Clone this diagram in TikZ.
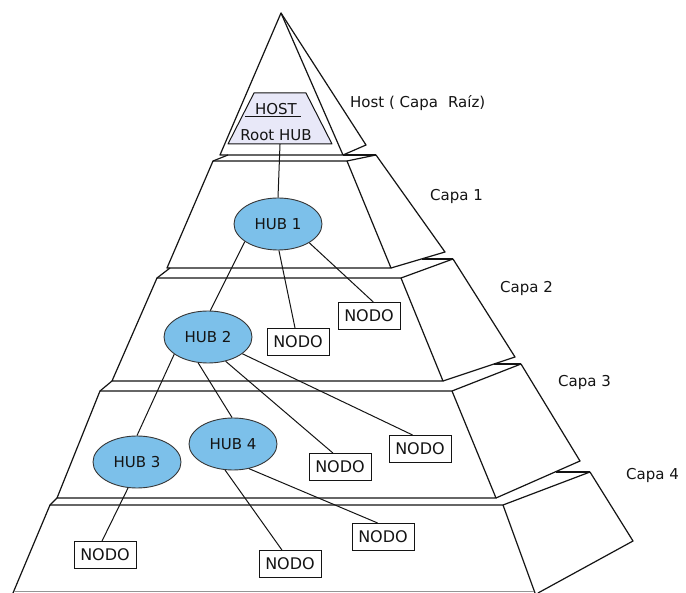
\documentclass[tikz,border=0pt]{standalone}
\usepackage{fontspec}
\setmainfont{DejaVu Sans}
\usetikzlibrary{shapes.geometric}
\definecolor{hubblue}{RGB}{124,192,234}
\definecolor{hostfill}{RGB}{232,232,248}
\definecolor{ink}{RGB}{20,20,20}
\begin{document}
\begin{tikzpicture}[x=1pt,y=-1pt,
  edge/.style={draw=ink,line width=1.2pt,line join=round},
  link/.style={draw=ink,line width=1pt},
  hub/.style={ellipse,draw=ink!85,fill=hubblue,line width=0.9pt,minimum width=88pt,minimum height=52pt,inner sep=0pt,font=\fontsize{15}{18}\selectfont,text=ink},
  nodo/.style={rectangle,draw=ink,fill=white,line width=1pt,minimum width=62pt,minimum height=27pt,inner sep=0pt,font=\fontsize{16}{18}\selectfont,text=ink},
  capa/.style={font=\fontsize{15}{18}\selectfont,text=ink,inner sep=0pt}]
\useasboundingbox (0,0) rectangle (686,593);
\fill[white] (0,0) rectangle (686,593);

% layer 0 (host pyramid)
\draw[edge] (281,13) -- (220,155) -- (343,155) -- cycle;
\draw[edge] (281,13) -- (366,145) -- (343,155);
\draw[edge] (343,155) -- (376,155);
% layer 1
\draw[edge] (213,161) -- (228,155);
\draw[edge] (213,161) -- (347,161) -- (391,268) -- (167,268) -- cycle;
\draw[edge] (347,161) -- (376,155) -- (445,252) -- (391,268);
% layer 2
\draw[edge] (157,278) -- (170,268);
\draw[edge] (157,278) -- (401,278) -- (443,381) -- (112,381) -- cycle;
\draw[edge] (422,259) -- (453,259);
\draw[edge] (401,278) -- (453,259) -- (515,357) -- (443,381);
% layer 3
\draw[edge] (100,391) -- (112,381);
\draw[edge] (100,391) -- (452,391) -- (496,498) -- (57,498) -- cycle;
\draw[edge] (494,364) -- (521,364);
\draw[edge] (452,391) -- (521,364) -- (580,461) -- (496,498);
% layer 4
\draw[edge] (50,505) -- (57,498);
\draw[edge] (13,593) -- (50,505) -- (503,505) -- (535,593);
\draw[edge] (556,472) -- (590,472);
\draw[edge] (503,505) -- (590,472) -- (633,541) -- (538,593);
\draw[draw=ink!45,line width=0.8pt] (14,591) -- (534,591);

% host box
\node[inner sep=0pt,minimum width=104pt,minimum height=51pt] (host) at (280,118.5) {};
\draw[draw=ink,fill=hostfill,line width=1pt,line join=round]
  (254,93) -- (306,93) -- (332,144) -- (228,144) -- cycle;
\draw[ink,line width=1pt] (245,117) -- (301,117);
\node[capa] (hosttxt) at (276,109) {HOST};
\node[capa] (roottxt) at (276,135) {Root HUB};

% labels
\node[capa,anchor=base west] (lh) at (350,108) {Host ( Capa\hspace{0.35em} Raíz)};
\node[capa,anchor=base west] (l1) at (430,201) {Capa 1};
\node[capa,anchor=base west] (l2) at (500,293) {Capa 2};
\node[capa,anchor=base west] (l3) at (558,387) {Capa 3};
\node[capa,anchor=base west] (l4) at (626,480) {Capa 4};

% hubs
\node[hub] (hub1) at (278,224) {HUB 1};
\node[hub] (hub2) at (208,337) {HUB 2};
\node[hub] (hub3) at (137,462) {HUB 3};
\node[hub] (hub4) at (233,444) {HUB 4};

% nodos
\node[nodo] (n1) at (298,342) {NODO};
\node[nodo] (n2) at (369,316) {NODO};
\node[nodo] (n3) at (340,467) {NODO};
\node[nodo] (n4) at (420,449) {NODO};
\node[nodo] (n5) at (105,555) {NODO};
\node[nodo] (n6) at (290,564) {NODO};
\node[nodo] (n7) at (383,537) {NODO};

% connectors
\draw[link] (host.south) -- (hub1.north);
\draw[link] (hub1.208) -- (hub2.85);
\draw[link] (hub1.272) -- (n1.102);
\draw[link] (hub1.329) -- (n2.73);
\draw[link] (hub2.207) -- (hub3.90);
\draw[link] (hub2.249) -- (hub4.92);
\draw[link] (hub2.306) -- (n3.117);
\draw[link] (hub2.334) -- (n4.118);
\draw[link] (hub3.251) -- (n5.102);
\draw[link] (hub4.253) -- (n6.120);
\draw[link] (hub4.303) -- (n7.111);
\end{tikzpicture}
\end{document}
